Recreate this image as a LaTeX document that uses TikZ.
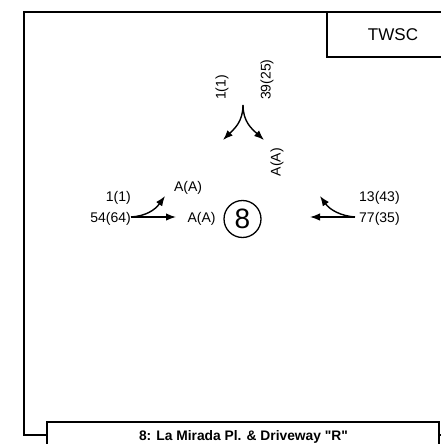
\documentclass[tikz,border=0pt]{standalone}
\usepackage{fontspec}
\setmainfont{Liberation Sans}
\newfontfamily\titlefont{Liberation Sans}
\usetikzlibrary{arrows.meta,positioning}
\tikzset{
  frameline/.style={line width=1.5pt,draw=black},
  vollabel/.style={font=\fontsize{14}{16}\selectfont,inner sep=0pt},
  movearrow/.style={-{Latex[length=10pt,width=7.5pt]},line width=1.4pt,draw=black},
  intnum/.style={circle,draw=black,line width=1.3pt,minimum size=37pt,inner sep=0pt,
    font=\fontsize{28}{30}\selectfont}
}
\begin{document}
\begin{tikzpicture}[x=1pt,y=-1pt]
  \useasboundingbox (0,0) rectangle (441,444);
  % frame, control box and title box
  \draw[frameline] (445,12) -- (24,12) -- (24,435) -- (445,435);
  \draw[frameline] (445,57) -- (327,57) -- (327,12);
  \node[font=\fontsize{17}{19}\selectfont] (ctrl) at (393,35) {TWSC};
  \draw[frameline,fill=white] (47,450) -- (47,422) -- (439,422) -- (439,450);
  \node[font=\titlefont\bfseries\fontsize{13.8}{15}\selectfont] (title) at (243.5,437)
    {8: La Mirada Pl. \& Driveway "R"};
  % intersection number
  \node[intnum] (int8) at (242.5,219) {8};
  % north approach
  \node[vollabel,rotate=90,anchor=west] (nl) at (222,100) {1(1)};
  \node[vollabel,rotate=90,anchor=west] (nt) at (267,100) {39(25)};
  \node[vollabel,rotate=90] (nlos) at (277,162) {A(A)};
  \coordinate (nstart) at (243,105);
  \coordinate (nlend) at (223,140);
  \coordinate (ntend) at (264,140);
  \draw[movearrow] (nstart) .. controls (243,122) and (234,129) .. (nlend);
  \draw[movearrow] (nstart) .. controls (243,122) and (252,129) .. (ntend);
  % west approach
  \node[vollabel,anchor=east] (wl) at (131,198) {1(1)};
  \node[vollabel,anchor=east] (wt) at (131,219) {54(64)};
  \node[vollabel] (wllos) at (188,188) {A(A)};
  \node[vollabel] (wtlos) at (201.5,219) {A(A)};
  \coordinate (wstart) at (131,217);
  \coordinate (wtend) at (176,217);
  \coordinate (wlend) at (165,196);
  \draw[movearrow] (wstart) -- (wtend);
  \draw[movearrow] (wstart) .. controls (146,216) and (155,210) .. (wlend);
  % east approach
  \node[vollabel,anchor=west] (el) at (359,198) {13(43)};
  \node[vollabel,anchor=west] (et) at (359,219) {77(35)};
  \coordinate (estart) at (355,217);
  \coordinate (etend) at (310,217);
  \coordinate (elend) at (320,196);
  \draw[movearrow] (estart) -- (etend);
  \draw[movearrow] (estart) .. controls (341,216) and (330,210) .. (elend);
\end{tikzpicture}
\end{document}
